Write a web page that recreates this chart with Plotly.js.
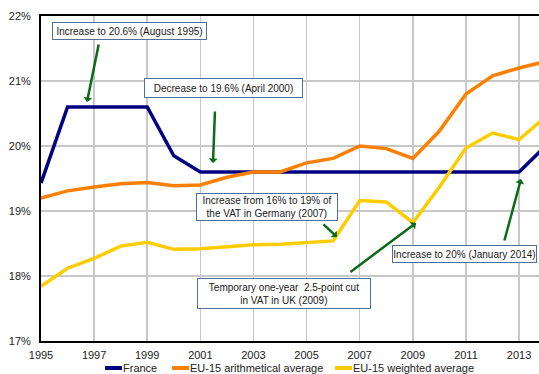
<!DOCTYPE html>
<html>
<head>
<meta charset="utf-8">
<script src="https://cdn.plot.ly/plotly-3.0.1.min.js"></script>
<style>
  html, body { margin: 0; padding: 0; background: #fff; }
  #chart { width: 539px; height: 374px; }
</style>
</head>
<body>
<div id="chart"></div>
<script>
// Standard VAT rate, yearly averages (%)
const years = [1995, 1996, 1997, 1998, 1999, 2000, 2001, 2002, 2003, 2004,
               2005, 2006, 2007, 2008, 2009, 2010, 2011, 2012, 2013, 2014];
const france = [19.43, 20.6, 20.6, 20.6, 20.6, 19.85, 19.6, 19.6, 19.6, 19.6,
                19.6, 19.6, 19.6, 19.6, 19.6, 19.6, 19.6, 19.6, 19.6, 20.0];
const eu15Arithmetic = [19.2, 19.31, 19.37, 19.42, 19.44, 19.39, 19.4, 19.52, 19.6, 19.6,
                        19.74, 19.81, 20.0, 19.96, 19.81, 20.23, 20.8, 21.08, 21.2, 21.3];
const eu15Weighted = [17.84, 18.12, 18.27, 18.46, 18.52, 18.41, 18.42, 18.45, 18.48, 18.49,
                      18.51, 18.54, 19.16, 19.14, 18.82, 19.37, 19.97, 20.2, 20.1, 20.45];

const seriesNames = ['France', 'EU-15 arithmetical average', 'EU-15 weighted average'];
const seriesColors = ['#000080', '#ff8000', '#ffcc00'];
const xTicks = [1995, 1997, 1999, 2001, 2003, 2005, 2007, 2009, 2011, 2013];

// Plot-area geometry in pixels, used to place the callouts and the key
const W = 539, H = 374;
const M = { l: 41, r: 0, t: 16, b: 33, autoexpand: false };
const plotW = W - M.l - M.r, plotH = H - M.t - M.b;
const xRange = [1995, 1995 + plotW / 26.56];
const yRange = [17, 22];
const px2x = px => xRange[0] + (px - M.l) / plotW * (xRange[1] - xRange[0]);
const py2y = py => yRange[1] - (py - M.t) / plotH * (yRange[1] - yRange[0]);
const px2paper = px => (px - M.l) / plotW;
const py2paper = py => (H - M.b - py) / plotH;

const traces = [france, eu15Arithmetic, eu15Weighted].map((vals, i) => ({
  type: 'scatter',
  mode: 'lines',
  x: years,
  y: vals,
  name: seriesNames[i],
  line: { color: seriesColors[i], width: 3.5 },
  hoverinfo: 'skip',
  showlegend: false
}));

const textFont = { family: 'Liberation Sans, Arial, sans-serif', size: 10, color: '#1a1a1a' };
const axisFont = { family: 'Liberation Sans, Arial, sans-serif', size: 11, color: '#222' };

// Callout boxes: [text, left, top, right, bottom] in pixels
const boxes = [
  ['Increase to 20.6% (August 1995)', 52, 22, 207, 40],
  ['Decrease to 19.6% (April 2000)', 144, 78, 303, 98],
  ['Increase from 16% to 19% of<br>the VAT in Germany (2007)', 196, 193, 338, 221],
  ['Temporary one-year  2.5-point cut<br>in VAT in UK (2009)', 197, 278, 371, 309],
  ['Increase to 20% (January 2014)', 392, 245, 537, 263]
];
// Green pointers: [tailX, tailY, headX, headY] in pixels
const pointers = [
  [99, 43, 87, 102],
  [215, 110, 213, 163],
  [322, 223, 337, 237],
  [349, 273, 416, 223],
  [504, 242, 521, 179]
];
// Key below the axis: sample start x, label start x, centre y (pixels)
const keyPos = [[105, 122], [172, 189], [335, 352]];
const keyY = 368;

const annotations = [];
const shapes = [];

boxes.forEach(([t, l, tp, r, b]) => {
  annotations.push({
    text: t,
    xref: 'x', yref: 'y',
    x: px2x((l + r) / 2), y: py2y((tp + b) / 2),
    xanchor: 'center', yanchor: 'middle',
    showarrow: false,
    width: r - l - 2,
    height: b - tp - 2,
    align: 'center',
    valign: 'middle',
    bgcolor: '#ffffff',
    bordercolor: '#4f6f98',
    borderwidth: 1,
    borderpad: 0,
    font: textFont
  });
});
pointers.forEach(([tx, ty, hx, hy]) => {
  annotations.push({
    text: '',
    xref: 'x', yref: 'y', axref: 'x', ayref: 'y',
    x: px2x(hx), y: py2y(hy),
    ax: px2x(tx), ay: py2y(ty),
    showarrow: true,
    arrowhead: 1,
    arrowsize: 0.6,
    arrowwidth: 2.5,
    arrowcolor: '#0b6b17',
    standoff: 0,
    startstandoff: 0
  });
});
seriesNames.forEach((name, i) => {
  const [sx, tx] = keyPos[i];
  shapes.push({
    type: 'line', xref: 'paper', yref: 'paper',
    x0: px2paper(sx), x1: px2paper(tx),
    y0: py2paper(keyY), y1: py2paper(keyY),
    line: { color: seriesColors[i], width: 4 }
  });
  annotations.push({
    text: name,
    xref: 'paper', yref: 'paper',
    x: px2paper(tx), y: py2paper(keyY),
    xanchor: 'left', yanchor: 'middle',
    showarrow: false,
    borderpad: 0,
    font: axisFont
  });
});

const layout = {
  width: W,
  height: H,
  margin: M,
  paper_bgcolor: '#fff',
  plot_bgcolor: '#fff',
  showlegend: false,
  xaxis: {
    range: xRange,
    tickvals: xTicks,
    ticktext: xTicks.map(String),
    showgrid: true,
    gridcolor: '#c8c8c8',
    gridwidth: 1.5,
    zeroline: false,
    showline: true,
    linecolor: '#000',
    linewidth: 2,
    mirror: true,
    ticks: '',
    tickfont: axisFont,
    ticklabelstandoff: 3,
    fixedrange: true
  },
  yaxis: {
    range: yRange,
    dtick: 1,
    tick0: 17,
    ticksuffix: '%',
    showgrid: true,
    gridcolor: '#c8c8c8',
    gridwidth: 1.5,
    zeroline: false,
    showline: true,
    linecolor: '#000',
    linewidth: 2,
    ticks: '',
    tickfont: axisFont,
    ticklabelstandoff: 6,
    fixedrange: true
  },
  shapes: shapes,
  annotations: annotations
};

Plotly.newPlot('chart', traces, layout, { displayModeBar: false, staticPlot: true });
</script>
</body>
</html>
